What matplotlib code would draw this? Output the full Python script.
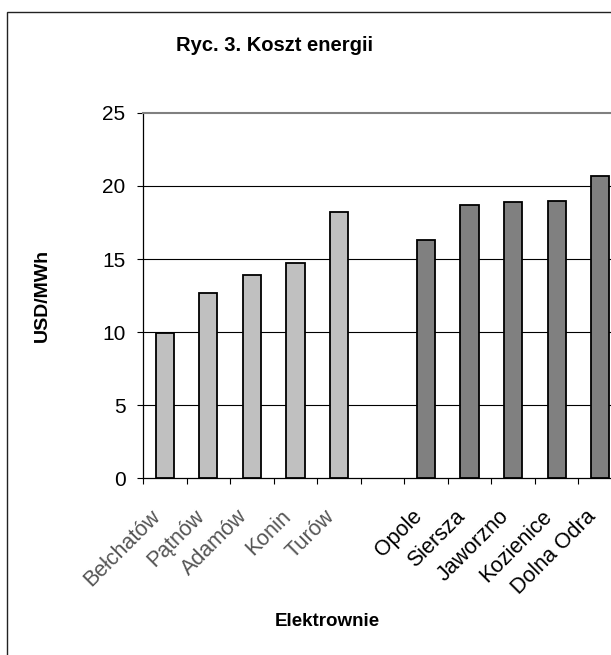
import matplotlib
matplotlib.use('Agg')
import matplotlib.pyplot as plt
from matplotlib.patches import Rectangle
import numpy as np

plt.rcParams['font.family'] = ['Liberation Sans', 'DejaVu Sans']

# power plants: lignite (light) and hard coal (dark), one empty slot between groups
lignite_names = ['Bełchatów', 'Pątnów', 'Adamów', 'Konin', 'Turów']
lignite_cost = [9.9, 12.7, 13.9, 14.7, 18.2]
coal_names = ['Opole', 'Siersza', 'Jaworzno', 'Kozienice', 'Dolna Odra']
coal_cost = [16.3, 18.7, 18.9, 19.0, 20.7]

y_ticks = [0, 5, 10, 15, 20, 25]

categories = lignite_names + [''] + coal_names
x_all = np.arange(len(categories))
x_lignite = x_all[:len(lignite_names)]
x_coal = x_all[len(lignite_names) + 1:]

fig = plt.figure(figsize=(6.11, 6.55), dpi=100)

# outer chart frame (clipped by the right and bottom edges in the reference)
fig.patches.append(Rectangle((7 / 611, -0.1), 1.2, 1 - 12 / 655 + 0.1,
                             transform=fig.transFigure, fill=False,
                             edgecolor='#222222', linewidth=1.0))

ax = fig.add_axes([0.234, 0.2702, 0.784, 0.5573])

ax.bar(x_lignite, lignite_cost, width=0.42, color='#c0c0c0',
       edgecolor='black', linewidth=1.3, zorder=3)
ax.bar(x_coal, coal_cost, width=0.42, color='#808080',
       edgecolor='black', linewidth=1.3, zorder=3)

ax.set_xlim(-0.5, len(categories) - 0.5)
ax.set_ylim(0, 25)
ax.set_yticks(y_ticks)
ax.tick_params(axis='y', direction='out', length=4.5, width=0.8, pad=8,
               labelsize=15)
for v in y_ticks[1:-1]:
    ax.axhline(v, color='black', linewidth=0.8, zorder=1)

# category labels at centres, tick marks at boundaries
ax.set_xticks(x_all)
ax.set_xticklabels(categories, rotation=45, ha='right', fontsize=15.5)
ax.tick_params(axis='x', which='major', length=0, pad=20)
ax.set_xticks(np.arange(len(categories) + 1) - 0.5, minor=True)
ax.tick_params(axis='x', which='minor', direction='out', length=4.5, width=0.8)
for lbl in ax.get_xticklabels()[:len(lignite_names)]:
    lbl.set_color('#555555')

for side in ['top', 'right']:
    ax.spines[side].set_color('#808080')
    ax.spines[side].set_linewidth(1.5)
ax.spines['left'].set_linewidth(0.9)
ax.spines['bottom'].set_linewidth(0.9)

fig.text(0.450, 0.930, 'Ryc. 3. Koszt energii', ha='center', va='center',
         fontsize=14.5, fontweight='bold')
fig.text(0.535, 0.0504, 'Elektrownie', ha='center', va='center',
         fontsize=13.5, fontweight='bold')
fig.text(0.070, 0.5496, 'USD/MWh', ha='center', va='center', rotation=90,
         fontsize=14, fontweight='bold')

fig.savefig('out.png', dpi=100)
